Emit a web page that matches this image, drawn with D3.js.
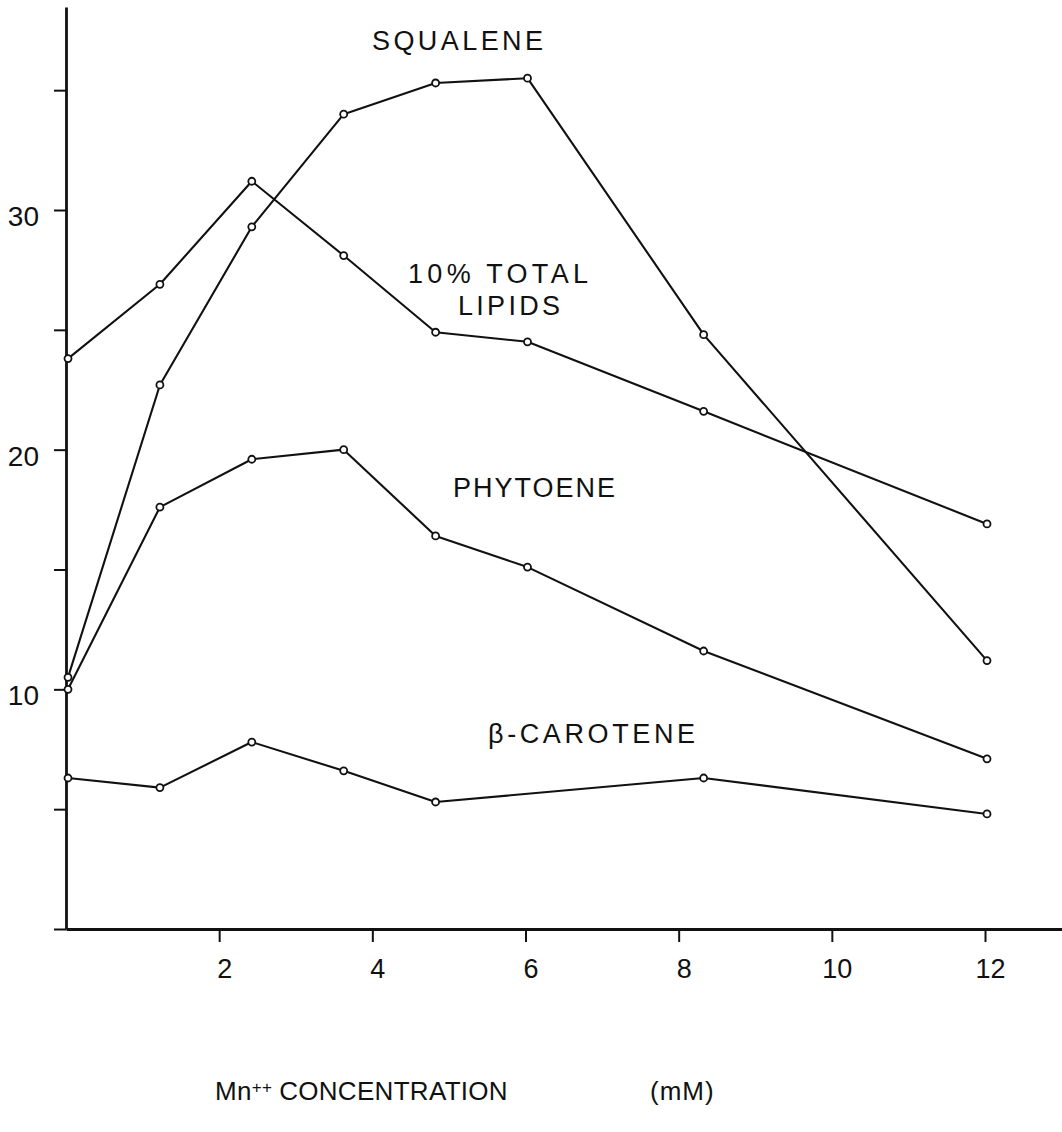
<!DOCTYPE html>
<html>
<head>
<meta charset="utf-8">
<script src="https://cdn.jsdelivr.net/npm/d3@7"></script>
<style>
  html, body { margin: 0; padding: 0; background: #fff; }
  svg { display: block; }
  text { font-family: "Liberation Sans", "DejaVu Sans", sans-serif; fill: #111; }
</style>
</head>
<body>
<svg id="chart" width="1062" height="1132"></svg>
<script>
// Mn++ concentration (mM) at which each culture was sampled
const concentration = [0, 1.2, 2.4, 3.6, 4.8, 6.0, 8.3, 12];
const caroteneConcentration = [0, 1.2, 2.4, 3.6, 4.8, 8.3, 12];

// Measured amounts per series
const squalene   = [10.5, 22.7, 29.3, 34.0, 35.3, 35.5, 24.8, 11.2];
const totalLipids = [23.8, 26.9, 31.2, 28.1, 24.9, 24.5, 21.6, 16.9];
const phytoene   = [10.0, 17.6, 19.6, 20.0, 16.4, 15.1, 11.6, 7.1];
const betaCarotene = [6.3, 5.9, 7.8, 6.6, 5.3, 6.3, 4.8];

// Axis ticks
const xTicks = [2, 4, 6, 8, 10, 12];
const yTicks = [0, 5, 10, 15, 20, 25, 30, 35];
const yTickLabels = [10, 20, 30];

const svg = d3.select("#chart");
const W = 1062, H = 1132;

const x = d3.scaleLinear().domain([0, 12]).range([68, 987]);
const y = d3.scaleLinear().domain([0, 30]).range([929, 210]);

const ink = "#111";

// y axis: line from the baseline up to the top of the frame
const yAxisScale = y.copy().domain([0, y.invert(7)]).range([929, 7]);
const yAxis = d3.axisLeft(yAxisScale)
  .tickValues(yTicks)
  .tickSize(12)
  .tickSizeOuter(0)
  .tickFormat(d => yTickLabels.includes(d) ? d : "");
const gy = svg.append("g").attr("transform", "translate(66,0)").call(yAxis);
gy.select(".domain").attr("stroke", ink).attr("stroke-width", 2.8);
gy.selectAll(".tick line").attr("stroke", ink).attr("stroke-width", 2);
gy.selectAll(".tick text")
  .attr("x", -27).attr("dy", "0.55em")
  .style("font-size", "28px").style("font-family", "Liberation Sans, sans-serif").attr("fill", ink);

// x axis: runs out to the right edge
const xAxisScale = x.copy().domain([0, x.invert(W + 2)]).range([68, W + 2]);
const xAxis = d3.axisBottom(xAxisScale)
  .tickValues(xTicks)
  .tickSize(13)
  .tickSizeOuter(0)
  .tickFormat(d3.format("d"));
const gx = svg.append("g").attr("transform", "translate(-2,929)").call(xAxis);
gx.select(".domain").attr("stroke", ink).attr("stroke-width", 2.8);
gx.selectAll(".tick line").attr("stroke", ink).attr("stroke-width", 2);
gx.selectAll(".tick text")
  .attr("x", 5).attr("y", 49).attr("dy", 0)
  .style("font-size", "27px").style("font-family", "Liberation Sans, sans-serif").attr("fill", ink);

// series lines with open circle markers
const series = [
  { xs: concentration, ys: squalene },
  { xs: concentration, ys: totalLipids },
  { xs: concentration, ys: phytoene },
  { xs: caroteneConcentration, ys: betaCarotene }
];
const line = d3.line().x(d => x(d[0])).y(d => y(d[1]));

series.forEach(s => {
  const pts = s.xs.map((c, i) => [c, s.ys[i]]);
  svg.append("path")
    .datum(pts)
    .attr("d", line)
    .attr("fill", "none")
    .attr("stroke", ink)
    .attr("stroke-width", 2.1)
    .attr("stroke-linejoin", "round");
  svg.append("g").selectAll("circle")
    .data(pts)
    .join("circle")
    .attr("cx", d => x(d[0]))
    .attr("cy", d => y(d[1]))
    .attr("r", 3.5)
    .attr("fill", "#fff")
    .attr("stroke", ink)
    .attr("stroke-width", 1.8);
});

// series labels, lettered with wide spacing
function label(txt, x0, base, width, size) {
  svg.append("text")
    .attr("x", x0).attr("y", base)
    .attr("textLength", width)
    .attr("lengthAdjust", "spacing")
    .style("font-size", (size || 27) + "px")
    .text(txt);
}
label("SQUALENE", 372, 50, 171);
label("10% TOTAL", 408, 283, 180);
label("LIPIDS", 458, 315, 102);
label("PHYTOENE", 453, 497, 162);
label("β-CAROTENE", 488, 743, 207);

// axis title
const title = svg.append("text")
  .attr("x", 215).attr("y", 1100)
  .style("font-size", "26px")
  .style("letter-spacing", "0.3px");
title.append("tspan").text("Mn");
title.append("tspan").attr("dy", -7).style("font-size", "17px").text("++");
title.append("tspan").attr("dy", 7).attr("dx", 7).text("CONCENTRATION");
svg.append("text")
  .attr("x", 650).attr("y", 1100)
  .style("font-size", "26px")
  .style("letter-spacing", "1px")
  .text("(mM)");
</script>
</body>
</html>
